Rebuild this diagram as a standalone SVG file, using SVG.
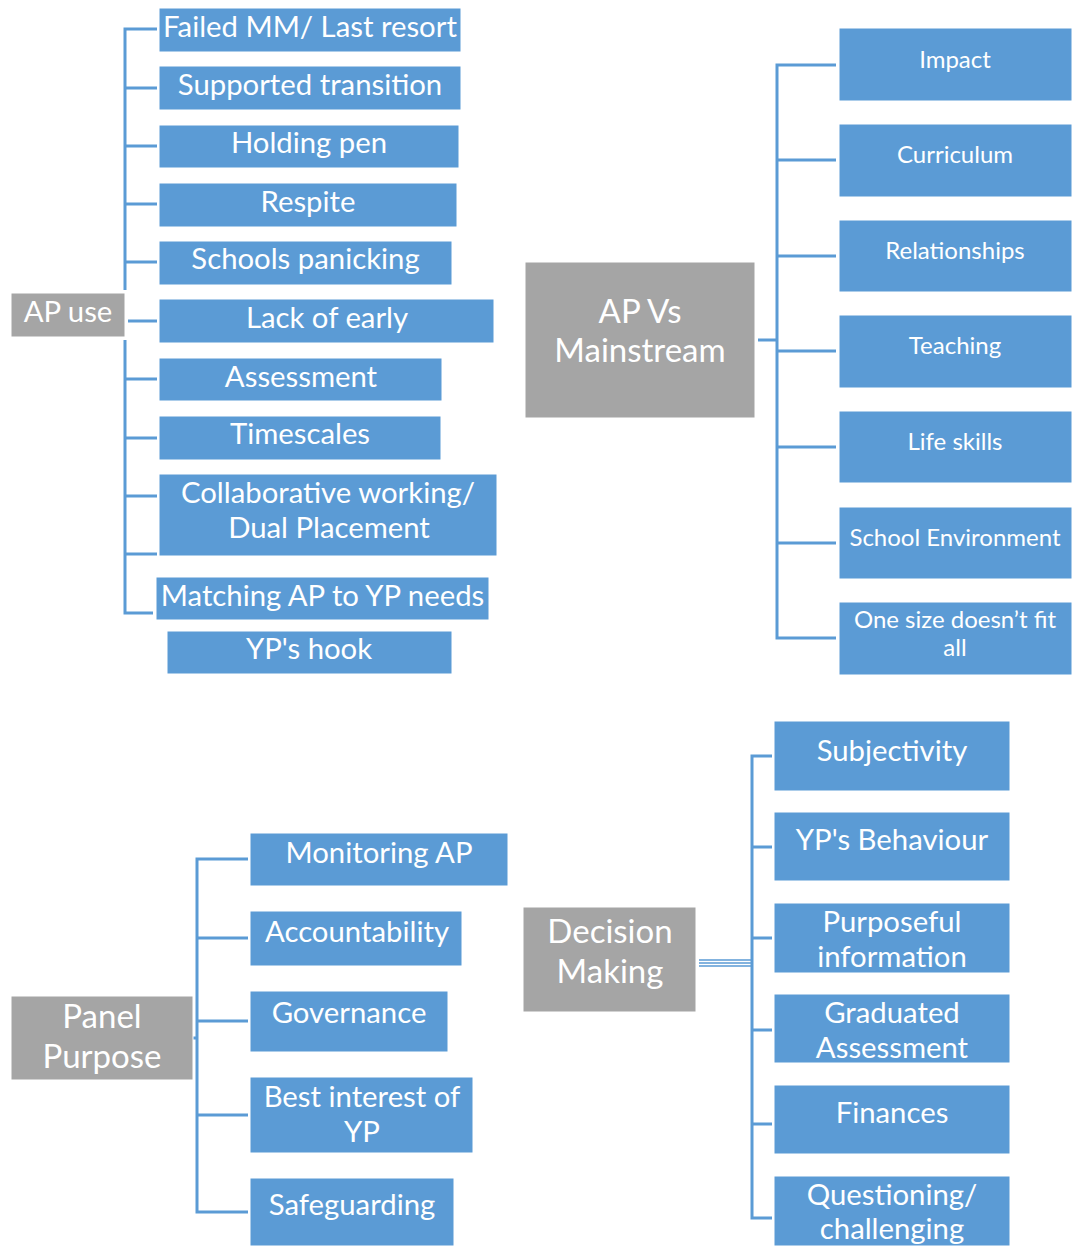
<svg xmlns="http://www.w3.org/2000/svg" width="1072" height="1247" viewBox="0 0 1072 1247">
  <style>
    .leaf { fill: #5B9BD5; stroke: #ffffff; stroke-width: 1; }
    .hub { fill: #A5A5A5; stroke: #ffffff; stroke-width: 1; }
    .wire { fill: none; stroke: #5B9BD5; stroke-width: 3; }
    .thin { fill: none; stroke: #5B9BD5; stroke-width: 1.5; }
    text { font-family: Lato, "Open Sans", "Liberation Sans", sans-serif; fill: #ffffff; text-anchor: middle; }
    .t1 { font-size: 29.3px; }
    .t2 { font-size: 24px; }
    .t3 { font-size: 33px; }
  </style>
  <rect width="1072" height="1247" fill="#ffffff"/>

  <g id="connectors">
    <!-- AP use tree -->
    <path class="wire" d="M157,29 H125 V290 M125,88 H157 M125,146 H157 M125,204 H157 M125,262 H157"/>
    <path class="wire" d="M128,321 H157"/>
    <path class="wire" d="M125,340 V613 H153 M125,379 H157 M125,438 H157 M125,496 H157 M125,554 H157"/>
    <!-- AP Vs Mainstream tree -->
    <path class="wire" d="M758,340 H777"/>
    <path class="wire" d="M836,65 H777 V638 H836 M777,160 H836 M777,256 H836 M777,351 H836 M777,447 H836 M777,543 H836"/>
    <!-- Panel Purpose tree -->
    <path class="wire" d="M193,1038 H197"/>
    <path class="wire" d="M248,859 H197 V1212 H248 M197,938 H248 M197,1021 H248 M197,1115 H248"/>
    <!-- Decision Making tree -->
    <path class="thin" d="M699,960 H752 M699,963 H752 M699,966 H752"/>
    <path class="wire" d="M772,756 H752 V1218 H772 M752,847 H772 M752,938 H772 M752,1030 H772 M752,1124 H772"/>
  </g>

  <!-- AP use -->
  <g id="ap-use"><rect class="hub" x="11" y="293" width="114" height="44"/><text class="t1" x="68" y="322">AP use</text></g>
  <g id="failed-mm"><rect class="leaf" x="159" y="8" width="302" height="44"/><text class="t1" x="310" y="37">Failed MM/ Last resort</text></g>
  <g id="supported-transition"><rect class="leaf" x="159" y="66" width="302" height="44"/><text class="t1" x="310" y="95">Supported transition</text></g>
  <g id="holding-pen"><rect class="leaf" x="159" y="125" width="300" height="43"/><text class="t1" x="309" y="153">Holding pen</text></g>
  <g id="respite"><rect class="leaf" x="159" y="183" width="298" height="44"/><text class="t1" x="308" y="212">Respite</text></g>
  <g id="schools-panicking"><rect class="leaf" x="159" y="241" width="293" height="44"/><text class="t1" x="305.5" y="269">Schools panicking</text></g>
  <g id="lack-of-early"><rect class="leaf" x="159" y="299" width="335" height="44"/><text class="t1" x="327" y="328">Lack of early</text></g>
  <g id="assessment"><rect class="leaf" x="159" y="358" width="283" height="43"/><text class="t1" x="301" y="387">Assessment</text></g>
  <g id="timescales"><rect class="leaf" x="159" y="416" width="282" height="44"/><text class="t1" x="300" y="444">Timescales</text></g>
  <g id="collaborative"><rect class="leaf" x="159" y="474" width="338" height="82"/><text class="t1" x="328" y="503">Collaborative working/</text><text class="t1" x="329" y="538">Dual Placement</text></g>
  <g id="matching"><rect class="leaf" x="156" y="577" width="333" height="43"/><text class="t1" x="322.5" y="606">Matching AP to YP needs</text></g>
  <g id="yp-hook"><rect class="leaf" x="167" y="631" width="285" height="43"/><text class="t1" x="309" y="659">YP's hook</text></g>

  <!-- AP Vs Mainstream -->
  <g id="ap-vs-mainstream"><rect class="hub" x="525" y="262" width="230" height="156"/><text class="t3" x="640" y="323">AP Vs</text><text class="t3" x="640" y="362">Mainstream</text></g>
  <g id="impact"><rect class="leaf" x="839" y="28" width="233" height="73"/><text class="t2" x="955" y="68">Impact</text></g>
  <g id="curriculum"><rect class="leaf" x="839" y="124" width="233" height="73"/><text class="t2" x="955" y="163">Curriculum</text></g>
  <g id="relationships"><rect class="leaf" x="839" y="220" width="233" height="72"/><text class="t2" x="955" y="259">Relationships</text></g>
  <g id="teaching"><rect class="leaf" x="839" y="315" width="233" height="73"/><text class="t2" x="955" y="354">Teaching</text></g>
  <g id="life-skills"><rect class="leaf" x="839" y="411" width="233" height="72"/><text class="t2" x="955" y="450">Life skills</text></g>
  <g id="school-environment"><rect class="leaf" x="839" y="507" width="233" height="72"/><text class="t2" x="955" y="546">School Environment</text></g>
  <g id="one-size"><rect class="leaf" x="839" y="602" width="233" height="73"/><text class="t2" x="955" y="628">One size doesn’t fit</text><text class="t2" x="955" y="656">all</text></g>

  <!-- Panel Purpose -->
  <g id="panel-purpose"><rect class="hub" x="11" y="996" width="182" height="84"/><text class="t3" x="102" y="1028">Panel</text><text class="t3" x="102" y="1068">Purpose</text></g>
  <g id="monitoring-ap"><rect class="leaf" x="250" y="833" width="258" height="53"/><text class="t1" x="379" y="863">Monitoring AP</text></g>
  <g id="accountability"><rect class="leaf" x="250" y="911" width="212" height="55"/><text class="t1" x="357" y="942">Accountability</text></g>
  <g id="governance"><rect class="leaf" x="250" y="991" width="198" height="61"/><text class="t1" x="349" y="1023">Governance</text></g>
  <g id="best-interest"><rect class="leaf" x="250" y="1077" width="223" height="76"/><text class="t1" x="362" y="1107">Best interest of</text><text class="t1" x="362" y="1142">YP</text></g>
  <g id="safeguarding"><rect class="leaf" x="250" y="1178" width="204" height="68"/><text class="t1" x="352" y="1215">Safeguarding</text></g>

  <!-- Decision Making -->
  <g id="decision-making"><rect class="hub" x="523" y="907" width="173" height="105"/><text class="t3" x="610" y="943">Decision</text><text class="t3" x="610" y="983">Making</text></g>
  <g id="subjectivity"><rect class="leaf" x="774" y="721" width="236" height="70"/><text class="t1" x="892" y="761">Subjectivity</text></g>
  <g id="yp-behaviour"><rect class="leaf" x="774" y="812" width="236" height="69"/><text class="t1" x="892" y="850">YP's Behaviour</text></g>
  <g id="purposeful-information"><rect class="leaf" x="774" y="903" width="236" height="70"/><text class="t1" x="892" y="932">Purposeful</text><text class="t1" x="892" y="967">information</text></g>
  <g id="graduated-assessment"><rect class="leaf" x="774" y="994" width="236" height="69"/><text class="t1" x="892" y="1023">Graduated</text><text class="t1" x="892" y="1058">Assessment</text></g>
  <g id="finances"><rect class="leaf" x="774" y="1085" width="236" height="69"/><text class="t1" x="892" y="1123">Finances</text></g>
  <g id="questioning"><rect class="leaf" x="774" y="1176" width="236" height="70"/><text class="t1" x="892" y="1239" dy="-34">Questioning/</text><text class="t1" x="892" y="1239">challenging</text></g>
</svg>
